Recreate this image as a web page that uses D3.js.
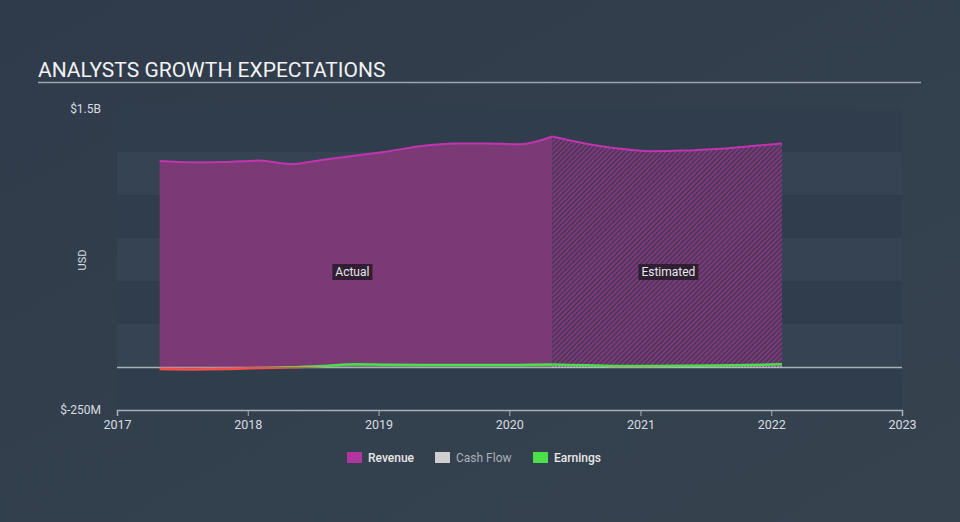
<!DOCTYPE html>
<html><head><meta charset="utf-8">
<script src="https://cdn.jsdelivr.net/npm/d3@7"></script>
<style>
html,body{margin:0;padding:0;background:#333f4f;}
svg{display:block;font-family:Roboto,"Open Sans",sans-serif;}
</style></head>
<body><svg id="c" width="960" height="522"></svg>
<script>
const revenueDates = ["2017-04-30","2017-07-31","2017-10-31","2018-01-31","2018-04-30","2018-07-31","2018-10-31","2019-01-31","2019-04-30","2019-07-31","2019-10-31","2020-01-31","2020-04-30"];
const revenueVals = [1.198,1.190,1.192,1.200,1.180,1.205,1.230,1.255,1.285,1.300,1.300,1.295,1.340];
const revenueEstDates = ["2020-04-30","2020-07-31","2020-10-31","2021-01-31","2021-04-30","2021-07-31","2021-10-31","2022-01-31"];
const revenueEstVals = [1.340,1.300,1.270,1.255,1.258,1.268,1.283,1.300];
const earningsVals = [-0.012,-0.014,-0.012,-0.006,-0.002,0.006,0.016,0.013,0.012,0.012,0.011,0.012,0.014];
const earningsEstVals = [0.014,0.010,0.006,0.006,0.007,0.009,0.012,0.016];
const cashEstVals = [0.002,0.001,0.001,0.001,0.001,0.002,0.002,0.002];
const yTickVals = [1.5,-0.25];
const yTickLabels = ["$1.5B","$-250M"];
const xTickYears = [2017,2018,2019,2020,2021,2022,2023];
const legendNames = ["Revenue","Cash Flow","Earnings"];
const legendColors = ["#b0359e","#cfcfcf","#4be04b"];

const svg = d3.select("#c");
const W=960,H=522;
const defs = svg.append("defs");
const bg = defs.append("linearGradient").attr("id","bg").attr("x1",0).attr("y1",0).attr("x2",1).attr("y2",1);
bg.append("stop").attr("offset","0%").attr("stop-color","#2f3b4a");
bg.append("stop").attr("offset","100%").attr("stop-color","#36434f");
svg.append("rect").attr("width",W).attr("height",H).attr("fill","url(#bg)");

const pat = defs.append("pattern").attr("id","hatch").attr("patternUnits","userSpaceOnUse")
  .attr("width",3.5).attr("height",3.5).attr("patternTransform","rotate(45)");
pat.append("rect").attr("width",3.5).attr("height",3.5).attr("fill","#4a3558");
pat.append("rect").attr("width",1.9).attr("height",3.5).attr("fill","#7e3a7a");

const pd = d3.timeParse("%Y-%m-%d");
const x = d3.scaleTime().domain([new Date(2017,0,1),new Date(2023,0,1)]).range([117,902]);
const y = d3.scaleLinear().domain([-0.25,1.5]).range([410,109]);

// bands
const bandEdges = d3.range(-0.25,1.5001,0.25);
for(let i=0;i<bandEdges.length-1;i++){
  const lo=bandEdges[i],hi=bandEdges[i+1];
  const k = Math.round((1.5-hi)/0.25);
  svg.append("rect").attr("x",117).attr("width",785).attr("y",y(hi)).attr("height",y(lo)-y(hi))
    .attr("fill", (k%2===0)?"#2f3d4c":"#354352");
}

// title
svg.append("text").attr("x",38).attr("y",77).attr("fill","#f2f2f2").attr("font-size",21).text("ANALYSTS GROWTH EXPECTATIONS");
svg.append("line").attr("x1",38).attr("x2",921).attr("y1",82.5).attr("y2",82.5).attr("stroke","#9aa5b1").attr("stroke-width",1.5);

const rev = revenueDates.map((d,i)=>({d:pd(d),v:revenueVals[i]}));
const revE = revenueEstDates.map((d,i)=>({d:pd(d),v:revenueEstVals[i]}));
const earn = revenueDates.map((d,i)=>({d:pd(d),v:earningsVals[i]}));
const earnE = revenueEstDates.map((d,i)=>({d:pd(d),v:earningsEstVals[i]}));
const cashE = revenueEstDates.map((d,i)=>({d:pd(d),v:cashEstVals[i]}));

const area = d3.area().x(d=>x(d.d)).y0(y(0)).y1(d=>y(d.v)).curve(d3.curveMonotoneX);
const line = d3.line().x(d=>x(d.d)).y(d=>y(d.v)).curve(d3.curveMonotoneX);

svg.append("path").datum(rev).attr("d",area).attr("fill","#7b3a76");
svg.append("path").datum(revE).attr("d",area).attr("fill","url(#hatch)");
svg.append("path").datum(rev).attr("d",line).attr("fill","none").attr("stroke","#c035ad").attr("stroke-width",2);
svg.append("path").datum(revE).attr("d",line).attr("fill","none").attr("stroke","#c035ad").attr("stroke-width",2);

// zero line
svg.append("line").attr("x1",117).attr("x2",902).attr("y1",y(0)+0.5).attr("y2",y(0)+0.5).attr("stroke","#a9b0b8").attr("stroke-width",1.5);

// cash flow estimate dotted
svg.append("path").datum(cashE).attr("d",line).attr("fill","none").attr("stroke","#cfcfcf").attr("stroke-width",2).attr("stroke-dasharray","1.5,1.5").attr("opacity",0.7);

// earnings: split into negative (red) and positive (green)
const earnClipNeg = defs.append("clipPath").attr("id","neg");
earnClipNeg.append("rect").attr("x",0).attr("y",y(0)).attr("width",W).attr("height",100);
const earnClipPos = defs.append("clipPath").attr("id","pos");
earnClipPos.append("rect").attr("x",0).attr("y",0).attr("width",W).attr("height",y(0));
[["pos","#4be04b"],["neg","#f0504a"]].forEach(([c,col])=>{
  const g = svg.append("g").attr("clip-path",`url(#${c})`);
  g.append("path").datum(earn).attr("d",area).attr("fill",col).attr("opacity",0.35);
  g.append("path").datum(earn).attr("d",line).attr("fill","none").attr("stroke",col).attr("stroke-width",2.5);
  g.append("path").datum(earnE).attr("d",line).attr("fill","none").attr("stroke",col).attr("stroke-width",2.5);
});

// labels Actual / Estimated
function tag(cx,cy,t){
  const g=svg.append("g");
  const tx=g.append("text").attr("x",cx).attr("y",cy+4).attr("text-anchor","middle").attr("font-size",12).attr("fill","#e8e8e8").text(t);
  const b=tx.node().getBBox();
  g.insert("rect","text").attr("x",b.x-3).attr("y",b.y-1).attr("width",b.width+6).attr("height",b.height+2).attr("fill","#2a1c2e").attr("opacity",0.9);
}
tag(x(new Date(2018,9,20)),272,"Actual");
tag(x(new Date(2021,2,20)),272,"Estimated");

// y labels
yTickVals.forEach((v,i)=>{
  svg.append("text").attr("x",101).attr("y",y(v)+4).attr("text-anchor","end").attr("font-size",12).attr("fill","#d8dde2").text(yTickLabels[i]);
});
svg.append("text").attr("transform","translate(86,260) rotate(-90)").attr("text-anchor","middle").attr("font-size",11).attr("fill","#d8dde2").text("USD");

// x axis
const xa = svg.append("g").attr("transform","translate(0,410)")
  .call(d3.axisBottom(x).tickValues(xTickYears.map(yr=>new Date(yr,0,1))).tickFormat(d3.timeFormat("%Y")).tickSizeOuter(0).tickSize(6));
xa.select(".domain").attr("stroke","#a9b0b8").attr("stroke-width",1.5);
xa.selectAll(".tick line").attr("stroke","#a9b0b8");
xa.selectAll(".tick text").attr("fill","#d8dde2").attr("font-size",12.5).attr("font-family","Roboto,sans-serif").attr("dy","0.8em");

// legend
const lx=[347,435,533];
legendNames.forEach((n,i)=>{
  svg.append("rect").attr("x",lx[i]).attr("y",452).attr("width",15).attr("height",11).attr("fill",legendColors[i]);
  svg.append("text").attr("x",lx[i]+21).attr("y",462).attr("font-size",12).attr("font-weight",i===1?400:500).attr("fill",i===1?"#a9b0b8":"#e8e8e8").text(n);
});
</script></body></html>
